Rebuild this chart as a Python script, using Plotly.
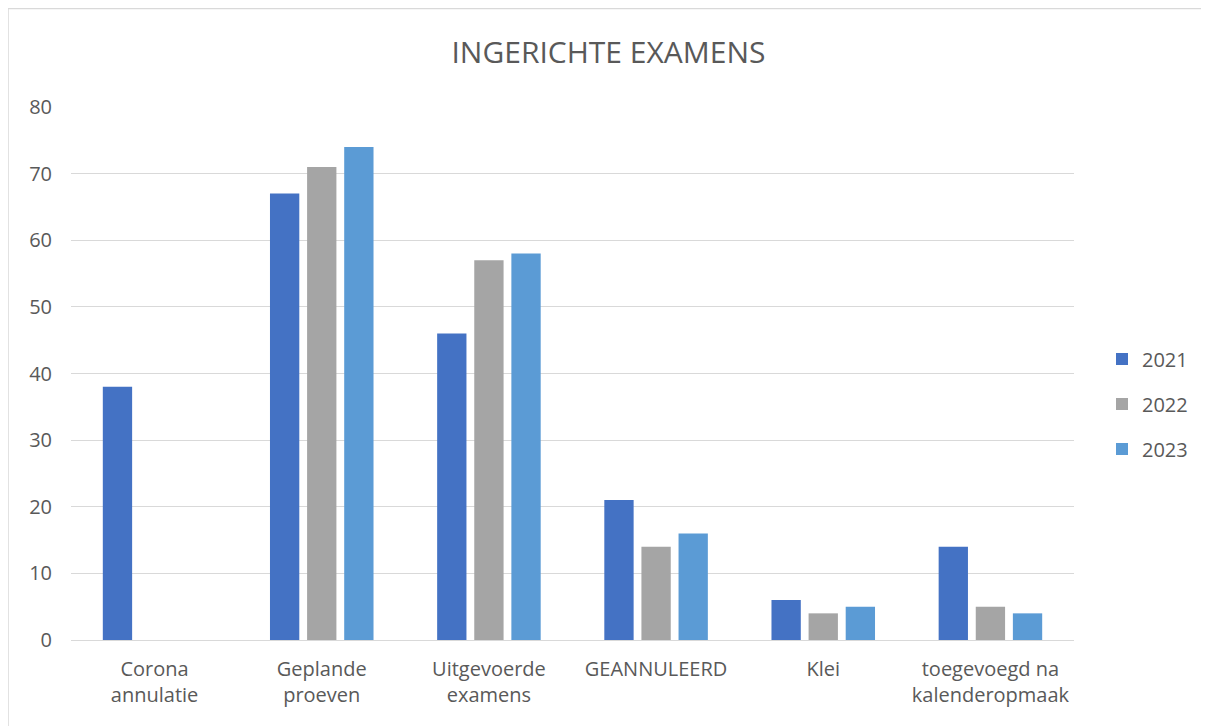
import plotly.graph_objects as go

categories = ["Corona<br>annulatie", "Geplande<br>proeven", "Uitgevoerde<br>examens",
              "GEANNULEERD", "Klei", "toegevoegd na<br>kalenderopmaak"]
series_names = ["2021", "2022", "2023"]
values_2021 = [38, 67, 46, 21, 6, 14]
values_2022 = [0, 71, 57, 14, 4, 5]
values_2023 = [0, 74, 58, 16, 5, 4]
colors = ["#4472C4", "#A5A5A5", "#5B9BD5"]
y_ticks = [0, 10, 20, 30, 40, 50, 60, 70, 80]

FONT = "Open Sans"
TXT = "#595959"
FS = 20

fig = go.Figure()
for name, vals, col in zip(series_names, [values_2021, values_2022, values_2023], colors):
    fig.add_trace(go.Bar(name=name, x=categories, y=vals, marker_color=col,
                         marker_line_width=0, legendgroup=name))

# page body has an 8px margin, so the figure sits at (8, 8) on screen
W, H = 1201, 718
L, R, T, B = 63, 135, 99, 86
pw, ph = W - L - R, H - T - B

def px(x):
    return (x - L) / pw

def py(y):
    return (H - B - y) / ph

fig.update_layout(
    width=W, height=H,
    margin=dict(l=L, r=R, t=T, b=B),
    paper_bgcolor="white", plot_bgcolor="white",
    barmode="group", bargap=0.334, bargroupgap=0.21,
    font=dict(family=FONT, size=FS, color=TXT),
    title=dict(text="INGERICHTE EXAMENS", x=0.5, xanchor="center", y=1 - 44 / H,
               yanchor="middle", font=dict(family=FONT, size=30, color=TXT)),
    legend=dict(x=px(1094), y=py(396), xanchor="left", yanchor="middle",
                font=dict(family=FONT, size=FS, color=TXT), tracegroupgap=16,
                itemwidth=30, bgcolor="rgba(0,0,0,0)"),
    xaxis=dict(showgrid=False, showline=False, ticks="", tickfont=dict(size=FS, color=TXT),
               ticklabelstandoff=15),
    yaxis=dict(range=[0, 80], tickvals=y_ticks, showgrid=True, gridcolor="#D9D9D9",
               gridwidth=1, zeroline=True, zerolinecolor="#D9D9D9", zerolinewidth=1,
               showline=False, ticks="", tickfont=dict(size=FS, color=TXT),
               ticklabelstandoff=18),
    shapes=[
        dict(type="line", xref="paper", yref="paper", x0=px(0), x1=px(W), y0=py(0.5), y1=py(0.5),
             line=dict(color="#D9D9D9", width=1.5)),
        dict(type="line", xref="paper", yref="paper", x0=px(0), x1=px(0), y0=py(0.5), y1=py(H),
             line=dict(color="#D9D9D9", width=1.5)),
    ],
)

fig.write_html("out.html")
